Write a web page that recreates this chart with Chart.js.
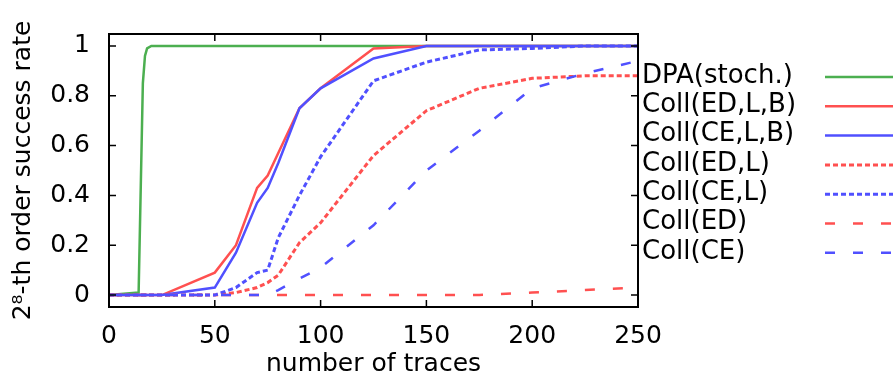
<!DOCTYPE html>
<html>
<head>
<meta charset="utf-8">
<script src="https://cdn.jsdelivr.net/npm/chart.js@4"></script>
<style>
  html, body { margin: 0; padding: 0; background: #fff; }
  #wrap { width: 893px; height: 379px; position: relative; }
</style>
</head>
<body>
<div id="wrap"><canvas id="myChart" width="893" height="379"></canvas></div>
<script>
// number of traces
const tracesX = [0, 25, 50, 60, 70, 75, 80, 90, 100, 125, 150, 175, 200, 225, 250];
const dpaX = [0, 14, 16, 17, 18, 20, 250];
const dpaY = [0, 0.01, 0.85, 0.96, 0.99, 1, 1];

const collEDLB = [0, 0, 0.09, 0.2, 0.43, 0.48, 0.57, 0.75, 0.83, 0.99, 1, 1, 1, 1, 1];
const collCELB = [0, 0, 0.03, 0.17, 0.37, 0.43, 0.53, 0.75, 0.83, 0.95, 1, 1, 1, 1, 1];
const collEDL  = [0, 0, 0, 0.01, 0.03, 0.05, 0.08, 0.21, 0.29, 0.56, 0.74, 0.83, 0.87, 0.88, 0.88];
const collCEL  = [0, 0, 0, 0.03, 0.09, 0.10, 0.23, 0.40, 0.555, 0.86, 0.935, 0.984, 0.99, 1, 1];
const collED   = [0, 0, 0, 0, 0, 0, 0, 0, 0, 0, 0, 0, 0.01, 0.02, 0.03];
const collCE   = [0, 0, 0, 0, 0, 0, 0.02, 0.066, 0.11, 0.28, 0.5, 0.66, 0.83, 0.89, 0.94];

const seriesNames = ["DPA(stoch.)", "Coll(ED,L,B)", "Coll(CE,L,B)", "Coll(ED,L)", "Coll(CE,L)", "Coll(ED)", "Coll(CE)"];
const xTicks = [0, 50, 100, 150, 200, 250];
const yTicks = [0, 0.2, 0.4, 0.6, 0.8, 1];
const yTickLabels = ["0", "0.2", "0.4", "0.6", "0.8", "1"];

const GREEN = "#4caf50", RED = "#ff5050", BLUE = "#5050ff";
const FONT = "'DejaVu Sans', sans-serif";

function pts(xs, ys) { return xs.map((x, i) => ({x: x, y: ys[i]})); }

const styles = [
  {c: GREEN, dash: [], w: 2.5},
  {c: RED, dash: [], w: 2.5},
  {c: BLUE, dash: [], w: 2.5},
  {c: RED, dash: [5, 3], w: 3},
  {c: BLUE, dash: [5, 3], w: 3},
  {c: RED, dash: [10, 18], w: 2.5},
  {c: BLUE, dash: [10, 18], w: 2.5}
];
const values = [pts(dpaX, dpaY), pts(tracesX, collEDLB), pts(tracesX, collCELB),
  pts(tracesX, collEDL), pts(tracesX, collCEL), pts(tracesX, collED), pts(tracesX, collCE)];

const datasets = seriesNames.map((name, i) => ({
  label: name,
  data: values[i],
  borderColor: styles[i].c,
  backgroundColor: styles[i].c,
  borderWidth: styles[i].w,
  borderDash: styles[i].dash,
  pointRadius: 0,
  showLine: true,
  fill: false,
  tension: 0,
  order: seriesNames.length - i
}));

// gnuplot-like frame, inward ticks and a text-then-line key on the right
const framePlugin = {
  id: "frame",
  afterDraw(chart) {
    const ctx = chart.ctx, a = chart.chartArea;
    const xs = chart.scales.x, ys = chart.scales.y;
    ctx.save();
    ctx.strokeStyle = "#000";
    ctx.lineWidth = 1.5;
    ctx.beginPath();
    xTicks.forEach(v => {
      const px = xs.getPixelForValue(v);
      ctx.moveTo(px, a.bottom); ctx.lineTo(px, a.bottom - 7);
      ctx.moveTo(px, a.top); ctx.lineTo(px, a.top + 7);
    });
    yTicks.forEach(v => {
      const py = ys.getPixelForValue(v);
      ctx.moveTo(a.left, py); ctx.lineTo(a.left + 7, py);
      ctx.moveTo(a.right, py); ctx.lineTo(a.right - 7, py);
    });
    ctx.stroke();
    ctx.lineWidth = 2;
    ctx.strokeRect(a.left, a.top, a.right - a.left, a.bottom - a.top);

    // key
    ctx.font = "26px " + FONT;
    ctx.textBaseline = "middle";
    ctx.textAlign = "left";
    chart.data.datasets.forEach((ds, i) => {
      const y = 77 + i * 29.3;
      ctx.fillStyle = "#000";
      ctx.fillText(ds.label, 642, y - 1);
      ctx.strokeStyle = ds.borderColor;
      ctx.lineWidth = ds.borderWidth;
      ctx.setLineDash(ds.borderDash);
      ctx.beginPath();
      ctx.moveTo(825, y); ctx.lineTo(893, y);
      ctx.stroke();
    });
    ctx.restore();
  }
};

new Chart("myChart", {
  type: "scatter",
  data: { datasets: datasets },
  options: {
    responsive: false,
    animation: false,
    layout: { padding: { left: 0, top: 13, right: 255, bottom: 0 } },
    plugins: { legend: { display: false }, tooltip: { enabled: false } },
    scales: {
      x: {
        type: "linear",
        min: 0, max: 250,
        afterFit: s => { s.height = 72; },
        afterBuildTicks: s => { s.ticks = xTicks.map(v => ({value: v})); },
        grid: { display: false, drawTicks: false },
        border: { display: false },
        ticks: { color: "#000", padding: 14, font: { family: FONT, size: 25 }, maxRotation: 0 },
        title: { display: true, text: "number of traces", color: "#000", padding: { top: 0, bottom: 0 }, font: { family: FONT, size: 25 } }
      },
      y: {
        min: -0.048, max: 1.048,
        afterFit: s => { s.width = 109; },
        afterBuildTicks: s => { s.ticks = yTicks.map(v => ({value: v})); },
        grid: { display: false, drawTicks: false },
        border: { display: false },
        ticks: {
          color: "#000", padding: 19, font: { family: FONT, size: 25 },
          callback: (v, i) => yTickLabels[i]
        },
        title: { display: true, text: "2\u2078-th order success rate", color: "#000", padding: { top: 8, bottom: 0 }, font: { family: FONT, size: 25 } }
      }
    }
  },
  plugins: [framePlugin]
});
</script>
</body>
</html>
